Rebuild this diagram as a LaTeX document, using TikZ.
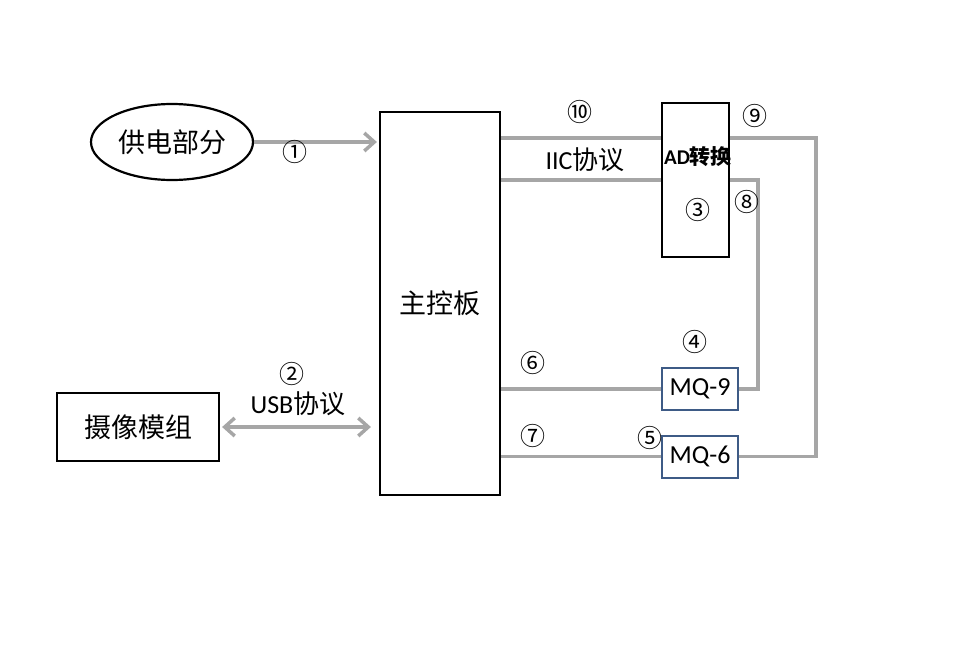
\documentclass[tikz,border=0pt]{standalone}
\usepackage{fontspec}
\usepackage{xcolor}
\usepackage{tikz}
\usetikzlibrary{calc,arrows.meta,positioning,shapes.geometric}
\setsansfont{Carlito}
\newfontfamily\cjk{Noto Sans CJK SC}
\definecolor{wireg}{HTML}{A6A6A6}
\definecolor{boxblue}{HTML}{3E5B86}
\tikzset{
  wire/.style={line width=3.5pt,wireg},
  ar/.style={wire,-{Straight Barb[length=10pt,width=18pt,line width=3.5pt]}},
  dar/.style={wire,{Straight Barb[length=10pt,width=18pt,line width=3.5pt]}-{Straight Barb[length=10pt,width=18pt,line width=3.5pt]}},
  blk/.style={draw=black,line width=2.2pt,inner sep=0pt,align=center,font=\cjk\fontsize{27}{29}\selectfont},
  sensor/.style={draw=boxblue,line width=2pt,inner sep=0pt,minimum width=76pt,minimum height=42pt,font=\sffamily\fontsize{26}{28}\selectfont},
  num/.style={font=\cjk\fontsize{25}{26}\selectfont,inner sep=0pt},
  lbl/.style={font=\fontsize{26}{28}\selectfont,inner sep=0pt}
}
\begin{document}
\begin{tikzpicture}[x=1pt,y=-1pt]
\useasboundingbox (0,0) rectangle (963,648);
% blocks
\node[blk,ellipse,minimum width=162pt,minimum height=76pt] (power) at (172,142) {供电部分};
\node[blk,minimum width=120pt,minimum height=383pt] (mcu) at (440,303.5) {主控板};
\node[blk,minimum width=162pt,minimum height=68pt] (cam) at (138,427) {摄像模组};
\node[blk,minimum width=67pt,minimum height=154pt] (ad) at (695.5,180) {};
\node[sensor] (mq9) at (700,389) {MQ-9};
\node[sensor] (mq6) at (700,456.5) {MQ-6};
% texts
\node[font=\sffamily\bfseries\fontsize{21}{23}\selectfont,inner sep=0pt] (adtxt) at (698,157) {AD{\cjk 转换}};
\node[lbl] (iic) at (585,160) {\sffamily IIC{\cjk 协议}};
\node[lbl] (usb) at (298,404) {\sffamily USB{\cjk 协议}};
% connectors
\draw[ar,shorten >=2pt] (power.east) -- (power.east -| mcu.west);
\draw[dar,shorten <=2pt,shorten >=8pt] (cam.east) -- (cam.east -| mcu.west);
\draw[wire] ([yshift=42pt]ad.west) -- ([yshift=42pt]ad.west -| mcu.east);
\draw[wire] (ad.west) -- (ad.west -| mcu.east);
\draw[wire] ([yshift=42pt]ad.east) -- ++(86,0) |- (mq6.east);
\draw[wire] (ad.east) -- ++(28,0) |- (mq9.east);
\draw[wire] (mq9.west -| mcu.east) -- (mq9.west);
\draw[wire] (mq6.west -| mcu.east) -- (mq6.west);
% numbers
\node[num] (n1) at (295,152) {①};
\node[num] (n2) at (292,374) {②};
\node[num] (n3) at (698,210) {③};
\node[num] (n4) at (695,342) {④};
\node[num] (n5) at (650,438) {⑤};
\node[num] (n6) at (533,363) {⑥};
\node[num] (n7) at (533,436) {⑦};
\node[num] (n8) at (747,202) {⑧};
\node[num] (n9) at (755,116) {⑨};
\node[num] (n10) at (580,112) {⑩};
\end{tikzpicture}
\end{document}
